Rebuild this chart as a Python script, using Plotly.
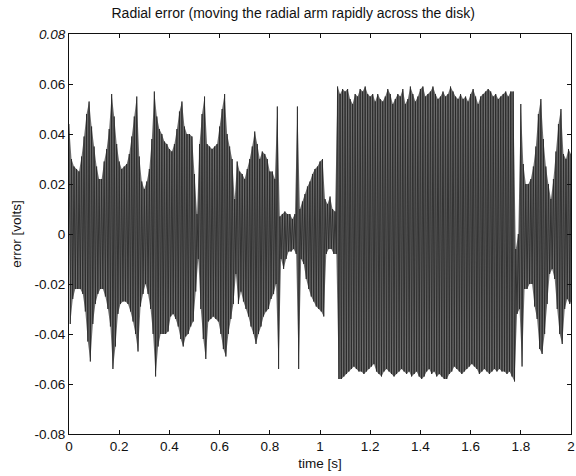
import plotly.graph_objects as go

# sample grid (s) for envelope readings, 0.00 .. 2.00 step 0.01
t_grid = [round(i * 0.01, 2) for i in range(201)]

# upper peaks of the radial error signal [V]
upper_peaks = [
    0.044, 0.030, 0.027, 0.026, 0.025, 0.031, 0.039, 0.048, 0.053, 0.043,
    0.035, 0.027, 0.022, 0.022, 0.029, 0.034, 0.042, 0.056, 0.047, 0.036,
    0.029, 0.026, 0.027, 0.028, 0.032, 0.039, 0.047, 0.055, 0.031, 0.021,
    0.018, 0.021, 0.026, 0.038, 0.057, 0.047, 0.042, 0.040, 0.037, 0.036,
    0.034, 0.033, 0.036, 0.042, 0.049, 0.053, 0.043, 0.040, 0.040, 0.039,
    0.024, 0.008, 0.036, 0.048, 0.055, 0.036, 0.035, 0.034, 0.035, 0.036,
    0.043, 0.050, 0.056, 0.040, 0.035, 0.030, 0.014, 0.029, 0.025, 0.024,
    0.022, 0.026, 0.030, 0.035, 0.041, 0.036, 0.030, 0.033, 0.032, 0.030,
    0.025, 0.025, 0.022, 0.051, 0.007, 0.008, 0.009, 0.008, 0.008, 0.006,
    0.008, 0.051, 0.010, 0.013, 0.016, 0.019, 0.021, 0.024, 0.026, 0.027,
    0.029, 0.030, 0.014, 0.012, 0.015, 0.010, 0.009,
    0.059, 0.056, 0.058, 0.057, 0.058, 0.054, 0.052, 0.056, 0.055, 0.058,
    0.057, 0.059, 0.056, 0.055, 0.056, 0.053, 0.056, 0.054, 0.053, 0.055,
    0.058, 0.056, 0.052, 0.054, 0.056, 0.055, 0.058, 0.052, 0.054, 0.059,
    0.056, 0.053, 0.055, 0.058, 0.059, 0.055, 0.056, 0.057, 0.059, 0.056,
    0.054, 0.055, 0.057, 0.055, 0.056, 0.059, 0.057, 0.055, 0.054, 0.056,
    0.054, 0.055, 0.053, 0.056, 0.058, 0.055, 0.052, 0.055, 0.056, 0.057,
    0.058, 0.057, 0.055, 0.056, 0.054, 0.055, 0.056, 0.057, 0.055, 0.057,
    0.057,
    -0.006, 0.000, 0.052, 0.028, 0.020, 0.020, 0.022, 0.027, 0.035, 0.048,
    0.054, 0.038, 0.027, 0.020, 0.014, 0.022, 0.033, 0.044, 0.050, 0.032,
    0.030, 0.034, 0.032,
]

# lower peaks of the radial error signal [V]
lower_peaks = [
    -0.036, -0.026, -0.022, -0.022, -0.022, -0.024, -0.031, -0.043, -0.051, -0.036,
    -0.028, -0.024, -0.022, -0.022, -0.025, -0.030, -0.037, -0.054, -0.045, -0.032,
    -0.028, -0.027, -0.027, -0.028, -0.031, -0.035, -0.040, -0.047, -0.029, -0.024,
    -0.020, -0.024, -0.030, -0.040, -0.057, -0.045, -0.040, -0.040, -0.040, -0.039,
    -0.033, -0.032, -0.034, -0.037, -0.042, -0.045, -0.041, -0.040, -0.037, -0.035,
    -0.023, -0.010, -0.030, -0.042, -0.050, -0.035, -0.034, -0.033, -0.034, -0.035,
    -0.040, -0.046, -0.049, -0.040, -0.034, -0.028, -0.016, -0.028, -0.023, -0.027,
    -0.030, -0.033, -0.037, -0.040, -0.044, -0.040, -0.037, -0.033, -0.031, -0.030,
    -0.026, -0.024, -0.020, -0.054, -0.010, -0.014, -0.010, -0.007, -0.007, -0.006,
    -0.008, -0.054, -0.010, -0.012, -0.018, -0.022, -0.025, -0.027, -0.029, -0.030,
    -0.031, -0.033, -0.008, -0.006, -0.006, -0.008, -0.008,
    -0.058, -0.058, -0.057, -0.056, -0.055, -0.054, -0.053, -0.054, -0.055, -0.055,
    -0.056, -0.055, -0.054, -0.053, -0.052, -0.055, -0.056, -0.057, -0.055, -0.054,
    -0.055, -0.056, -0.057, -0.056, -0.055, -0.054, -0.055, -0.056, -0.055, -0.057,
    -0.056, -0.055, -0.057, -0.058, -0.057, -0.055, -0.054, -0.056, -0.055, -0.057,
    -0.056, -0.057, -0.058, -0.058, -0.056, -0.055, -0.053, -0.054, -0.055, -0.056,
    -0.055, -0.054, -0.053, -0.052, -0.053, -0.054, -0.056, -0.055, -0.054, -0.055,
    -0.056, -0.055, -0.054, -0.055, -0.054, -0.055, -0.055, -0.056, -0.055, -0.057,
    -0.059,
    -0.032, -0.030, -0.053, -0.022, -0.022, -0.020, -0.020, -0.029, -0.034, -0.046,
    -0.048, -0.040, -0.028, -0.016, -0.014, -0.018, -0.030, -0.040, -0.044, -0.030,
    -0.026, -0.028, -0.027,
]

x_ticks = [0, 0.2, 0.4, 0.6, 0.8, 1, 1.2, 1.4, 1.6, 1.8, 2]
x_tick_text = ["0", "0.2", "0.4", "0.6", "0.8", "1", "1.2", "1.4", "1.6", "1.8", "2"]
y_ticks = [-0.08, -0.06, -0.04, -0.02, 0, 0.02, 0.04, 0.06, 0.08]
y_tick_text = ["-0.08", "-0.06", "-0.04", "-0.02", "0", "0.02", "0.04", "0.06", "<i>0.08</i>"]

# interleave upper and lower peaks into one oscillating trace
half = 0.005
xs, ys, lx = [], [], []
for t, u, l in zip(t_grid, upper_peaks, lower_peaks):
    xs.append(t)
    ys.append(u)
    lt = round(min(t + half, 2.0), 3)
    lx.append(lt)
    if t + half <= 2.0:
        xs.append(lt)
        ys.append(l)

fig = go.Figure()
# dense band shading between the upper and lower peaks
fig.add_trace(go.Scatter(x=t_grid, y=upper_peaks, mode="lines",
                         line=dict(width=0, color="rgba(0,0,0,0)", simplify=False),
                         showlegend=False, hoverinfo="skip"))
fig.add_trace(go.Scatter(x=lx, y=lower_peaks, mode="lines", fill="tonexty",
                         fillcolor="#6e6e6e",
                         line=dict(width=0, color="rgba(0,0,0,0)", simplify=False),
                         showlegend=False, hoverinfo="skip"))
# the oscillating signal itself
fig.add_trace(go.Scatter(x=xs, y=ys, mode="lines",
                         line=dict(color="#262626", width=0.8, simplify=False),
                         showlegend=False, hoverinfo="skip"))

font = dict(family="Liberation Sans, Arial, sans-serif", size=13.5, color="#111")

fig.update_layout(
    width=576, height=476,
    margin=dict(l=69, r=1, t=34, b=42),
    paper_bgcolor="white", plot_bgcolor="white",
    font=font,
    title=dict(text="Radial error (moving the radial arm rapidly across the disk)",
               x=0.509, xanchor="center", y=0.972, yanchor="middle",
               font=dict(family="Liberation Sans, Arial, sans-serif", size=14, color="#111")),
    xaxis=dict(range=[0, 2], tickvals=x_ticks, ticktext=x_tick_text,
               showgrid=False, zeroline=False, showline=True, linecolor="#111",
               linewidth=1, mirror="allticks", ticks="inside", ticklen=4,
               tickcolor="#111", ticklabeloverflow="allow",
               title=dict(text="time [s]", standoff=5, font=font)),
    yaxis=dict(range=[-0.08, 0.08], tickvals=y_ticks, ticktext=y_tick_text,
               showgrid=False, zeroline=False, showline=True, linecolor="#111",
               linewidth=1, mirror="allticks", ticks="inside", ticklen=4,
               tickcolor="#111",
               title=dict(text="error [volts]", standoff=9, font=font)),
)

fig.write_html("out.html")
